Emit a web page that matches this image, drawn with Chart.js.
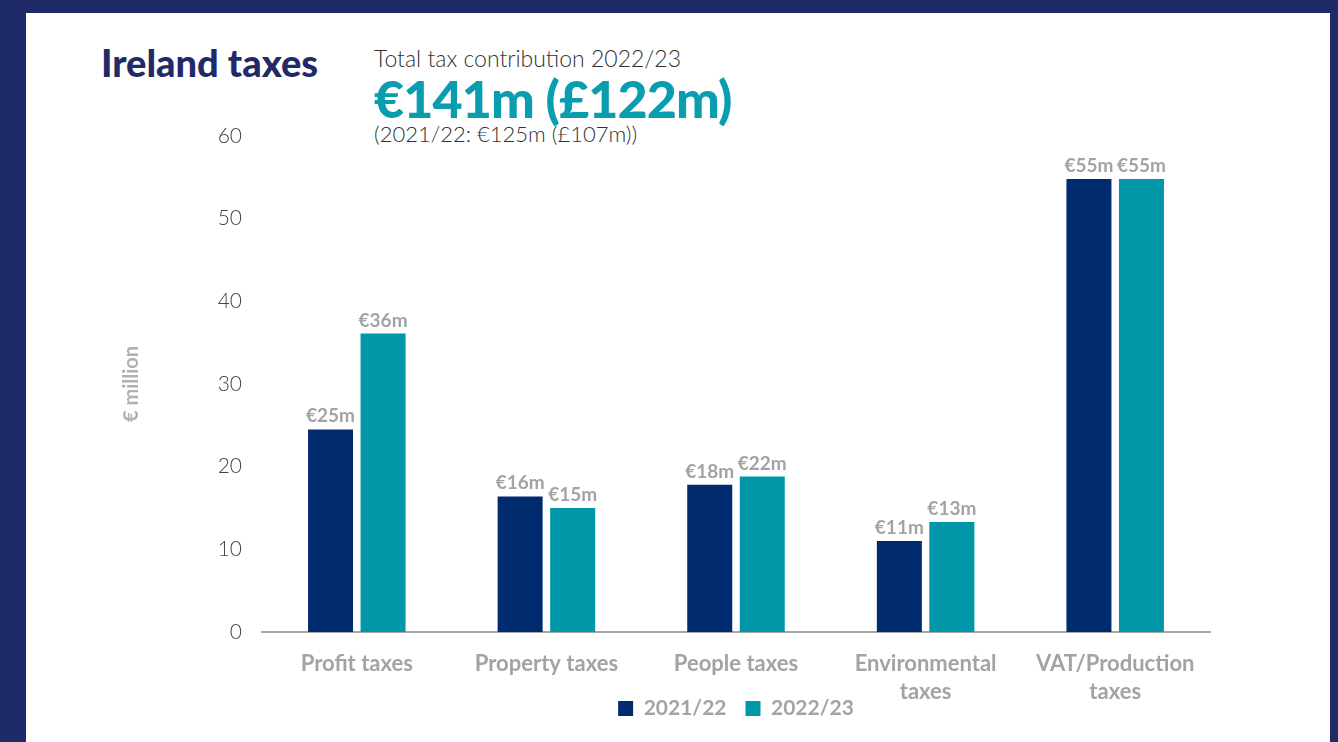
<!DOCTYPE html>
<html>
<head>
<meta charset="utf-8">
<script src="https://cdn.jsdelivr.net/npm/chart.js@4.4.1/dist/chart.umd.min.js"></script>
<style>
  html, body { margin: 0; padding: 0; }
  body { width: 1338px; height: 742px; background: #1f2a68; position: relative; overflow: hidden; font-family: Lato, "Open Sans", sans-serif; }
  .panel { position: absolute; left: 26px; top: 13px; width: 1304px; height: 729px; background: #ffffff; }
  .txt { position: absolute; line-height: 1; white-space: nowrap; }
  #heading { left: 101px; top: 43px; font-size: 38px; font-weight: 900; color: #1f2a68; }
  #sub1 { left: 374px; top: 47px; font-size: 23px; font-weight: 300; color: #333333; }
  #big { left: 374px; top: 72px; font-size: 52px; font-weight: 900; color: #0a9db0; letter-spacing: -0.9px; }
  #sub2 { left: 374px; top: 123px; font-size: 22px; font-weight: 300; color: #333333; }
  #chart-wrap { position: absolute; left: 0; top: 0; width: 1338px; height: 742px; overflow: hidden; }
</style>
</head>
<body>
<div class="panel"></div>
<div class="txt" id="heading">Ireland taxes</div>
<div class="txt" id="sub1">Total tax contribution 2022/23</div>
<div class="txt" id="big">€141m (£122m)</div>
<div class="txt" id="sub2">(2021/22: €125m (£107m))</div>
<div id="chart-wrap"><canvas id="tax-chart" width="1338" height="754"></canvas></div>

<script>
// Chart data
const categories = ["Profit taxes", "Property taxes", "People taxes", ["Environmental", "taxes"], ["VAT/Production", "taxes"]];
const values2122 = [24.5, 16.4, 17.8, 11.0, 54.8];
const values2223 = [36.1, 15.0, 18.8, 13.3, 54.8];
const labels2122 = ["€25m", "€16m", "€18m", "€11m", "€55m"];
const labels2223 = ["€36m", "€15m", "€22m", "€13m", "€55m"];
const yTicks = [0, 10, 20, 30, 40, 50, 60];

const navy = "#002b6e";
const teal = "#0097a8";
const grey = "#a3a3a3";

// Draws the value labels above each bar
const barLabels = {
  id: "barLabels",
  afterDatasetsDraw(chart) {
    const ctx = chart.ctx;
    const texts = [labels2122, labels2223];
    ctx.save();
    ctx.font = "bold 19px Lato";
    ctx.fillStyle = grey;
    ctx.textAlign = "center";
    ctx.textBaseline = "alphabetic";
    chart.data.datasets.forEach(function (ds, i) {
      chart.getDatasetMeta(i).data.forEach(function (bar, j) {
        ctx.fillText(texts[i][j], bar.x, bar.y - 7);
      });
    });
    ctx.restore();
  },
};

// Pull the legend up so it sits beside the second line of the axis labels
const legendShift = {
  id: "legendShift",
  afterLayout(chart) {
    chart.legend.top -= 25;
    chart.legend.bottom -= 25;
  },
};

document.addEventListener("DOMContentLoaded", function () {
  const ctx = document.getElementById("tax-chart").getContext("2d");

  new Chart(ctx, {
    type: "bar",
    data: {
      labels: categories,
      datasets: [
        { label: "2021/22", data: values2122, backgroundColor: navy },
        { label: "2022/23", data: values2223, backgroundColor: teal },
      ],
    },
    options: {
      responsive: false,
      animation: false,
      categoryPercentage: 0.554,
      barPercentage: 0.857,
      layout: { padding: { left: 0, right: 128, top: 136, bottom: 0 } },
      plugins: {
        tooltip: { enabled: false },
        legend: {
          position: "bottom",
          fullSize: false,
          labels: {
            boxWidth: 15,
            boxHeight: 15,
            padding: 19,
            color: grey,
            font: { family: "Lato", size: 21, weight: "bold" },
          },
        },
      },
      scales: {
        x: {
          grid: { display: false, drawTicks: false },
          border: { display: true, color: "#a6a6a6", width: 2 },
          ticks: {
            color: grey,
            padding: 18,
            font: { family: "Lato", size: 22, weight: "bold", lineHeight: 1.27 },
          },
          afterFit: function (scale) { scale.height = 72; },
        },
        y: {
          min: 0,
          max: 60,
          grid: { display: false, drawTicks: false },
          border: { display: false },
          afterBuildTicks: function (scale) { scale.ticks = yTicks.map(function (v) { return { value: v }; }); },
          ticks: {
            color: "#444444",
            padding: 20,
            font: { family: "Lato", size: 21, weight: 300 },
          },
          title: {
            display: true,
            text: "€ million",
            color: "#b0b0b0",
            padding: { top: 120, bottom: 0 },
            font: { family: "Lato", size: 20, weight: "bold" },
          },
          afterFit: function (scale) { scale.width = 262; },
        },
      },
    },
    plugins: [barLabels, legendShift],
  });
});
</script>
</body>
</html>
